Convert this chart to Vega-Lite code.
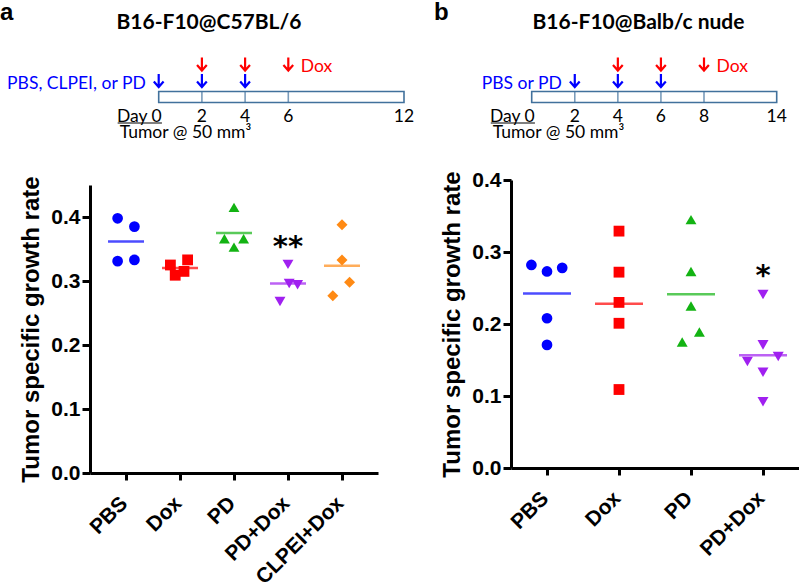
{
  "$schema": "https://vega.github.io/schema/vega-lite/v6.json",
  "padding": 0,
  "background": "white",
  "config": {
    "view": {"stroke": null},
    "axis": {
      "grid": false, "domainColor": "black", "domainWidth": 3, "tickColor": "black", "tickWidth": 3,
      "labelFont": "Liberation Sans", "labelFontWeight": "bold", "labelFontSize": 21, "labelColor": "black",
      "titleFont": "Liberation Sans", "titleFontWeight": "bold", "titleFontSize": 24, "titleColor": "black"
    },
    "axisX": {"tickSize": 7, "labelAngle": -45, "labelAlign": "right", "labelBaseline": "middle", "labelPadding": 20, "labelOffset": -2, "labelOverlap": false},
    "axisY": {"tickSize": 8, "labelPadding": 2, "titlePadding": 7}
  },
  "datasets": {
    "growthA": [
      {"group": "PBS", "rate": 0.398, "jitter": -1.05},
      {"group": "PBS", "rate": 0.385, "jitter": 1.05},
      {"group": "PBS", "rate": 0.331, "jitter": -1.05},
      {"group": "PBS", "rate": 0.333, "jitter": 1.05},
      {"group": "Dox", "rate": 0.325, "jitter": -1.2},
      {"group": "Dox", "rate": 0.309, "jitter": -0.6},
      {"group": "Dox", "rate": 0.333, "jitter": 0.95},
      {"group": "Dox", "rate": 0.315, "jitter": 0.5},
      {"group": "PD", "rate": 0.415, "jitter": 0},
      {"group": "PD", "rate": 0.366, "jitter": -1.2},
      {"group": "PD", "rate": 0.366, "jitter": 1.2},
      {"group": "PD", "rate": 0.353, "jitter": 0},
      {"group": "PD+Dox", "rate": 0.326, "jitter": 0},
      {"group": "PD+Dox", "rate": 0.296, "jitter": 0.15},
      {"group": "PD+Dox", "rate": 0.294, "jitter": 1.2},
      {"group": "PD+Dox", "rate": 0.268, "jitter": -1.0},
      {"group": "CLPEI+Dox", "rate": 0.388, "jitter": 0},
      {"group": "CLPEI+Dox", "rate": 0.333, "jitter": 0},
      {"group": "CLPEI+Dox", "rate": 0.298, "jitter": 0.95},
      {"group": "CLPEI+Dox", "rate": 0.277, "jitter": -1.15}
    ],
    "growthB": [
      {"group": "PBS", "rate": 0.282, "jitter": -1.95},
      {"group": "PBS", "rate": 0.273, "jitter": 0},
      {"group": "PBS", "rate": 0.278, "jitter": 1.9},
      {"group": "PBS", "rate": 0.208, "jitter": 0},
      {"group": "PBS", "rate": 0.171, "jitter": 0},
      {"group": "Dox", "rate": 0.329, "jitter": 0},
      {"group": "Dox", "rate": 0.272, "jitter": 0},
      {"group": "Dox", "rate": 0.230, "jitter": 0},
      {"group": "Dox", "rate": 0.201, "jitter": 0},
      {"group": "Dox", "rate": 0.109, "jitter": 0},
      {"group": "PD", "rate": 0.345, "jitter": 0},
      {"group": "PD", "rate": 0.273, "jitter": 0},
      {"group": "PD", "rate": 0.225, "jitter": 0},
      {"group": "PD", "rate": 0.189, "jitter": 1.05},
      {"group": "PD", "rate": 0.175, "jitter": -1.1},
      {"group": "PD+Dox", "rate": 0.241, "jitter": 0},
      {"group": "PD+Dox", "rate": 0.171, "jitter": 0},
      {"group": "PD+Dox", "rate": 0.148, "jitter": -1.95},
      {"group": "PD+Dox", "rate": 0.155, "jitter": 1.9},
      {"group": "PD+Dox", "rate": 0.133, "jitter": 0},
      {"group": "PD+Dox", "rate": 0.092, "jitter": 0}
    ],
    "starsA": [{"group": "PD+Dox", "rate": 0.339, "mark": "**"}],
    "starsB": [{"group": "PD+Dox", "rate": 0.254, "mark": "*"}],
    "schedA": [{"start": 0, "end": 12}],
    "schedB": [{"start": 0, "end": 14}],
    "daysA": [{"day": 2}, {"day": 4}, {"day": 6}, {"day": 12}],
    "daysB": [{"day": 2}, {"day": 4}, {"day": 6}, {"day": 8}, {"day": 14}],
    "dosesA": [
      {"day": 0, "agent": "carrier"}, {"day": 2, "agent": "carrier"}, {"day": 4, "agent": "carrier"},
      {"day": 2, "agent": "Dox"}, {"day": 4, "agent": "Dox"}, {"day": 6, "agent": "Dox"}
    ],
    "dosesB": [
      {"day": 2, "agent": "carrier"}, {"day": 4, "agent": "carrier"}, {"day": 6, "agent": "carrier"},
      {"day": 4, "agent": "Dox"}, {"day": 6, "agent": "Dox"}, {"day": 8, "agent": "Dox"}
    ],
    "agentLabelsA": [
      {"day": 0, "agent": "carrier", "text": "PBS, CLPEI, or PD"},
      {"day": 6, "agent": "Dox", "text": "Dox"}
    ],
    "agentLabelsB": [
      {"day": 2, "agent": "carrier", "text": "PBS or PD"},
      {"day": 8, "agent": "Dox", "text": "Dox"}
    ],
    "day0": [{"day": 0, "text": "Day 0"}],
    "note": [{"day": 0, "text": "Tumor @ 50 mm³"}]
  },
  "spacing": 19,
  "resolve": {"scale": {"color": "independent", "shape": "independent", "size": "independent"}},
  "hconcat": [
    {
      "title": {"text": "a", "anchor": "start", "frame": "group", "font": "Liberation Sans", "fontSize": 24, "fontWeight": "bold", "color": "black", "dx": -90, "offset": -31.5, "baseline": "alphabetic"},
      "bounds": "flush",
      "spacing": 37,
      "resolve": {"scale": {"color": "independent", "shape": "independent", "size": "independent"}},
      "vconcat": [
        {
          "width": 288, "height": 100,
          "title": {"text": "B16-F10@C57BL/6", "anchor": "middle", "frame": "group", "font": "Lato", "fontSize": 21, "fontWeight": "bold", "color": "black", "dx": -25, "offset": -2, "baseline": "alphabetic"},
          "layer": [
            {
              "data": {"name": "schedA"},
              "mark": {"type": "bar", "size": 11, "fill": "white", "stroke": "#41719c", "strokeWidth": 1.6},
              "encoding": {
                "x": {"field": "start", "type": "quantitative", "scale": {"domain": [0, 6, 12], "range": [68.7, 198.3, 314], "nice": false, "zero": false}, "axis": null},
                "x2": {"field": "end"},
                "y": {"datum": "schedule", "type": "nominal", "scale": {"type": "point", "domain": ["Dox", "carrier", "schedule", "days", "note"], "range": [16, 82], "padding": 0}, "axis": null}
              }
            },
            {
              "data": {"name": "daysA"},
              "transform": [{"filter": "datum.day < 12"}],
              "mark": {"type": "tick", "orient": "vertical", "size": 11, "thickness": 1.6, "color": "#41719c"},
              "encoding": {
                "x": {"field": "day", "type": "quantitative"},
                "y": {"datum": "schedule", "type": "nominal"}
              }
            },
            {
              "data": {"name": "daysA"},
              "mark": {"type": "text", "font": "Lato", "fontSize": 17.5, "baseline": "middle", "align": "center", "dy": 3, "color": "black"},
              "encoding": {
                "x": {"field": "day", "type": "quantitative"},
                "y": {"datum": "days", "type": "nominal"},
                "text": {"field": "day", "type": "quantitative"}
              }
            },
            {
              "data": {"name": "day0"},
              "mark": {"type": "text", "font": "Lato", "fontSize": 17.5, "baseline": "middle", "align": "right", "dx": 3, "dy": 3, "color": "black"},
              "encoding": {
                "x": {"field": "day", "type": "quantitative"},
                "y": {"datum": "days", "type": "nominal"},
                "text": {"field": "text"}
              }
            },
            {
              "data": {"name": "day0"},
              "mark": {"type": "rule", "color": "black", "strokeWidth": 1.2, "yOffset": 9.5},
              "encoding": {
                "x": {"datum": -1.9, "type": "quantitative"},
                "x2": {"datum": 0.15},
                "y": {"datum": "days", "type": "nominal"}
              }
            },
            {
              "data": {"name": "note"},
              "mark": {"type": "text", "font": "Lato", "fontSize": 17.5, "baseline": "middle", "align": "left", "dx": -39, "dy": 3, "color": "black"},
              "encoding": {
                "x": {"field": "day", "type": "quantitative"},
                "y": {"datum": "note", "type": "nominal"},
                "text": {"field": "text"}
              }
            },
            {
              "data": {"name": "dosesA"},
              "mark": {"type": "point", "shape": "M0,-1L0,1M-0.75,0.15L0,1L0.75,0.15", "filled": false, "size": 169, "strokeWidth": 2.2, "opacity": 1},
              "encoding": {
                "x": {"field": "day", "type": "quantitative"},
                "y": {"field": "agent", "type": "nominal"},
                "color": {"field": "agent", "type": "nominal", "scale": {"domain": ["carrier", "Dox"], "range": ["#0000ff", "#ff0000"]}, "legend": null}
              }
            },
            {
              "data": {"name": "agentLabelsA"},
              "transform": [{"filter": "datum.agent === 'carrier'"}],
              "mark": {"type": "text", "font": "Lato", "fontSize": 17.5, "baseline": "middle", "align": "right", "dx": -13, "dy": 3},
              "encoding": {
                "x": {"field": "day", "type": "quantitative"},
                "y": {"field": "agent", "type": "nominal"},
                "text": {"field": "text"},
                "color": {"field": "agent", "type": "nominal", "legend": null}
              }
            },
            {
              "data": {"name": "agentLabelsA"},
              "transform": [{"filter": "datum.agent === 'Dox'"}],
              "mark": {"type": "text", "font": "Lato", "fontSize": 17.5, "baseline": "middle", "align": "left", "dx": 12.5, "dy": 3},
              "encoding": {
                "x": {"field": "day", "type": "quantitative"},
                "y": {"field": "agent", "type": "nominal"},
                "text": {"field": "text"},
                "color": {"field": "agent", "type": "nominal", "legend": null}
              }
            }
          ]
        },
        {
          "width": 288, "height": 288,
          "encoding": {
            "x": {"field": "group", "type": "nominal", "sort": ["PBS", "Dox", "PD", "PD+Dox", "CLPEI+Dox"], "scale": {"type": "point", "padding": 0.667}, "axis": {"title": null}}
          },
          "layer": [
            {
              "data": {"name": "growthA"},
              "mark": {"type": "point", "filled": true, "opacity": 1},
              "encoding": {
                "y": {"field": "rate", "type": "quantitative", "scale": {"domain": [0, 0.45], "nice": false}, "axis": {"title": "Tumor specific growth rate", "values": [0, 0.1, 0.2, 0.3, 0.4], "format": ".1f"}},
                "xOffset": {"field": "jitter", "type": "quantitative", "scale": {"domain": [-2, 2], "range": [-16, 16]}},
                "color": {"field": "group", "type": "nominal", "scale": {"domain": ["PBS", "Dox", "PD", "PD+Dox", "CLPEI+Dox"], "range": ["#0000ff", "#ff0000", "#13b313", "#a020f0", "#ff8a14"]}, "legend": null},
                "shape": {"field": "group", "type": "nominal", "scale": {"domain": ["PBS", "Dox", "PD", "PD+Dox", "CLPEI+Dox"], "range": ["circle", "square", "triangle-up", "triangle-down", "diamond"]}, "legend": null},
                "size": {"field": "group", "type": "ordinal", "scale": {"domain": ["PBS", "Dox", "PD", "PD+Dox", "CLPEI+Dox"], "range": [115, 121, 165, 165, 121]}, "legend": null}
              }
            },
            {
              "data": {"name": "growthA"},
              "transform": [{"aggregate": [{"op": "mean", "field": "rate", "as": "mean_rate"}], "groupby": ["group"]}],
              "mark": {"type": "tick", "thickness": 2.5, "size": 36},
              "encoding": {
                "y": {"field": "mean_rate", "type": "quantitative"},
                "color": {"field": "group", "type": "nominal", "legend": null}
              }
            },
            {
              "data": {"name": "starsA"},
              "mark": {"type": "text", "font": "DejaVu Sans", "fontWeight": "bold", "fontSize": 29, "baseline": "alphabetic", "color": "black"},
              "encoding": {
                "y": {"field": "rate", "type": "quantitative"},
                "text": {"field": "mark"}
              }
            }
          ]
        }
      ]
    },
    {
      "title": {"text": "b", "anchor": "start", "frame": "group", "font": "Liberation Sans", "fontSize": 24, "fontWeight": "bold", "color": "black", "dx": -77, "offset": -31.5, "baseline": "alphabetic"},
      "bounds": "flush",
      "spacing": 32,
      "resolve": {"scale": {"color": "independent", "shape": "independent", "size": "independent"}},
      "vconcat": [
        {
          "width": 288, "height": 100,
          "title": {"text": "B16-F10@Balb/c nude", "anchor": "middle", "frame": "group", "font": "Lato", "fontSize": 21, "fontWeight": "bold", "color": "black", "dx": -16.5, "offset": -2, "baseline": "alphabetic"},
          "layer": [
            {
              "data": {"name": "schedB"},
              "mark": {"type": "bar", "size": 11, "fill": "white", "stroke": "#41719c", "strokeWidth": 1.6},
              "encoding": {
                "x": {"field": "start", "type": "quantitative", "scale": {"domain": [0, 8, 14], "range": [20.7, 193, 265.7], "nice": false, "zero": false}, "axis": null},
                "x2": {"field": "end"},
                "y": {"datum": "schedule", "type": "nominal", "scale": {"type": "point", "domain": ["Dox", "carrier", "schedule", "days", "note"], "range": [16, 82], "padding": 0}, "axis": null}
              }
            },
            {
              "data": {"name": "daysB"},
              "transform": [{"filter": "datum.day < 14"}],
              "mark": {"type": "tick", "orient": "vertical", "size": 11, "thickness": 1.6, "color": "#41719c"},
              "encoding": {
                "x": {"field": "day", "type": "quantitative"},
                "y": {"datum": "schedule", "type": "nominal"}
              }
            },
            {
              "data": {"name": "daysB"},
              "mark": {"type": "text", "font": "Lato", "fontSize": 17.5, "baseline": "middle", "align": "center", "dy": 3, "color": "black"},
              "encoding": {
                "x": {"field": "day", "type": "quantitative"},
                "y": {"datum": "days", "type": "nominal"},
                "text": {"field": "day", "type": "quantitative"}
              }
            },
            {
              "data": {"name": "day0"},
              "mark": {"type": "text", "font": "Lato", "fontSize": 17.5, "baseline": "middle", "align": "right", "dx": 3, "dy": 3, "color": "black"},
              "encoding": {
                "x": {"field": "day", "type": "quantitative"},
                "y": {"datum": "days", "type": "nominal"},
                "text": {"field": "text"}
              }
            },
            {
              "data": {"name": "day0"},
              "mark": {"type": "rule", "color": "black", "strokeWidth": 1.2, "yOffset": 9.5},
              "encoding": {
                "x": {"datum": -1.9, "type": "quantitative"},
                "x2": {"datum": 0.15},
                "y": {"datum": "days", "type": "nominal"}
              }
            },
            {
              "data": {"name": "note"},
              "mark": {"type": "text", "font": "Lato", "fontSize": 17.5, "baseline": "middle", "align": "left", "dx": -39, "dy": 3, "color": "black"},
              "encoding": {
                "x": {"field": "day", "type": "quantitative"},
                "y": {"datum": "note", "type": "nominal"},
                "text": {"field": "text"}
              }
            },
            {
              "data": {"name": "dosesB"},
              "mark": {"type": "point", "shape": "M0,-1L0,1M-0.75,0.15L0,1L0.75,0.15", "filled": false, "size": 169, "strokeWidth": 2.2, "opacity": 1},
              "encoding": {
                "x": {"field": "day", "type": "quantitative"},
                "y": {"field": "agent", "type": "nominal"},
                "color": {"field": "agent", "type": "nominal", "scale": {"domain": ["carrier", "Dox"], "range": ["#0000ff", "#ff0000"]}, "legend": null}
              }
            },
            {
              "data": {"name": "agentLabelsB"},
              "transform": [{"filter": "datum.agent === 'carrier'"}],
              "mark": {"type": "text", "font": "Lato", "fontSize": 17.5, "baseline": "middle", "align": "right", "dx": -13, "dy": 3},
              "encoding": {
                "x": {"field": "day", "type": "quantitative"},
                "y": {"field": "agent", "type": "nominal"},
                "text": {"field": "text"},
                "color": {"field": "agent", "type": "nominal", "legend": null}
              }
            },
            {
              "data": {"name": "agentLabelsB"},
              "transform": [{"filter": "datum.agent === 'Dox'"}],
              "mark": {"type": "text", "font": "Lato", "fontSize": 17.5, "baseline": "middle", "align": "left", "dx": 12.5, "dy": 3},
              "encoding": {
                "x": {"field": "day", "type": "quantitative"},
                "y": {"field": "agent", "type": "nominal"},
                "text": {"field": "text"},
                "color": {"field": "agent", "type": "nominal", "legend": null}
              }
            }
          ]
        },
        {
          "width": 288, "height": 288,
          "encoding": {
            "x": {"field": "group", "type": "nominal", "sort": ["PBS", "Dox", "PD", "PD+Dox"], "scale": {"type": "point", "padding": 0.5}, "axis": {"title": null}}
          },
          "layer": [
            {
              "data": {"name": "growthB"},
              "mark": {"type": "point", "filled": true, "opacity": 1},
              "encoding": {
                "y": {"field": "rate", "type": "quantitative", "scale": {"domain": [0, 0.4], "nice": false}, "axis": {"title": "Tumor specific growth rate", "values": [0, 0.1, 0.2, 0.3, 0.4], "format": ".1f"}},
                "xOffset": {"field": "jitter", "type": "quantitative", "scale": {"domain": [-2, 2], "range": [-16, 16]}},
                "color": {"field": "group", "type": "nominal", "scale": {"domain": ["PBS", "Dox", "PD", "PD+Dox"], "range": ["#0000ff", "#ff0000", "#13b313", "#a020f0"]}, "legend": null},
                "shape": {"field": "group", "type": "nominal", "scale": {"domain": ["PBS", "Dox", "PD", "PD+Dox"], "range": ["circle", "square", "triangle-up", "triangle-down"]}, "legend": null},
                "size": {"field": "group", "type": "ordinal", "scale": {"domain": ["PBS", "Dox", "PD", "PD+Dox"], "range": [115, 121, 165, 165]}, "legend": null}
              }
            },
            {
              "data": {"name": "growthB"},
              "transform": [{"aggregate": [{"op": "mean", "field": "rate", "as": "mean_rate"}], "groupby": ["group"]}],
              "mark": {"type": "tick", "thickness": 2.5, "size": 48},
              "encoding": {
                "y": {"field": "mean_rate", "type": "quantitative"},
                "color": {"field": "group", "type": "nominal", "legend": null}
              }
            },
            {
              "data": {"name": "starsB"},
              "mark": {"type": "text", "font": "DejaVu Sans", "fontWeight": "bold", "fontSize": 29, "baseline": "alphabetic", "color": "black"},
              "encoding": {
                "y": {"field": "rate", "type": "quantitative"},
                "text": {"field": "mark"}
              }
            }
          ]
        }
      ]
    }
  ]
}
